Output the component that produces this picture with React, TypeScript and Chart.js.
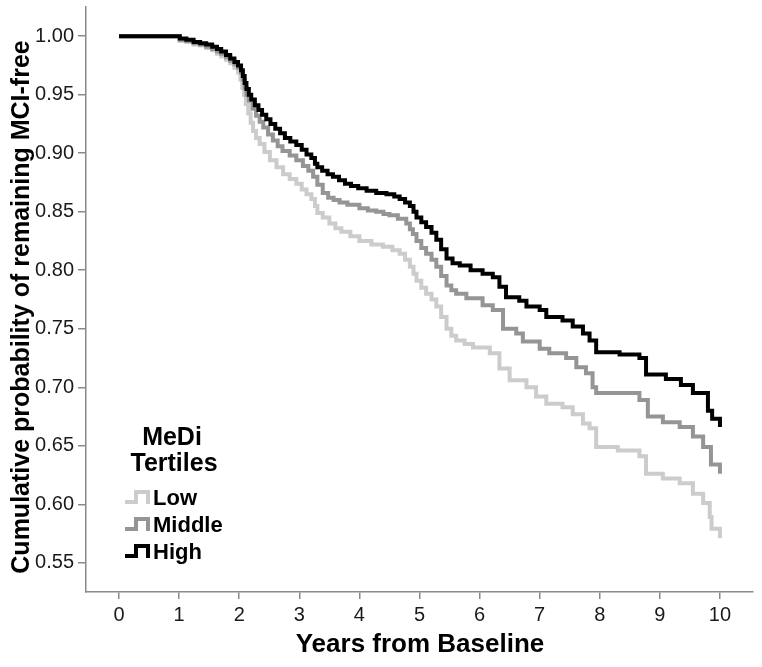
import React, { useEffect, useRef } from "react";
import { Chart, registerables } from "chart.js";

Chart.register(...registerables);

const seriesNames = ["Low", "Middle", "High"];
const seriesColors = ["#cccccc", "#959595", "#000000"];

const lowT = [0, 0.96, 1.01, 1.12, 1.24, 1.35, 1.45, 1.55, 1.63, 1.7, 1.78, 1.85, 1.92, 1.98, 2.02, 2.05, 2.08, 2.11, 2.15, 2.19, 2.23, 2.28, 2.34, 2.42, 2.51, 2.62, 2.73, 2.84, 2.95, 3.04, 3.12, 3.2, 3.26, 3.3, 3.39, 3.5, 3.6, 3.7, 3.85, 4.0, 4.2, 4.39, 4.55, 4.67, 4.76, 4.84, 4.9, 4.95, 5.03, 5.11, 5.2, 5.28, 5.36, 5.45, 5.53, 5.61, 5.75, 5.89, 6.17, 6.33, 6.5, 6.78, 6.94, 7.11, 7.38, 7.55, 7.72, 7.83, 7.94, 8.3, 8.66, 8.77, 9.05, 9.33, 9.55, 9.72, 9.83, 9.86, 10.0];
const lowS = [1.0, 1.0, 0.996, 0.995, 0.993, 0.992, 0.99, 0.988, 0.985, 0.983, 0.98, 0.977, 0.973, 0.969, 0.963, 0.956, 0.95, 0.942, 0.934, 0.926, 0.919, 0.913, 0.908, 0.901, 0.894, 0.888, 0.882, 0.878, 0.874, 0.869, 0.865, 0.861, 0.855, 0.849, 0.845, 0.84, 0.836, 0.833, 0.829, 0.825, 0.822, 0.82, 0.817, 0.814, 0.809, 0.803, 0.797, 0.791, 0.785, 0.78, 0.775, 0.769, 0.76, 0.75, 0.744, 0.74, 0.737, 0.734, 0.729, 0.716, 0.706, 0.7, 0.692, 0.686, 0.683, 0.677, 0.669, 0.665, 0.649, 0.646, 0.641, 0.626, 0.622, 0.618, 0.609, 0.601, 0.589, 0.579, 0.571];

const midT = [0, 0.96, 1.01, 1.12, 1.24, 1.35, 1.45, 1.55, 1.63, 1.7, 1.78, 1.85, 1.92, 1.98, 2.03, 2.06, 2.09, 2.12, 2.16, 2.22, 2.28, 2.34, 2.4, 2.48, 2.56, 2.64, 2.72, 2.84, 2.95, 3.06, 3.15, 3.23, 3.3, 3.39, 3.48, 3.57, 3.67, 3.8, 4.0, 4.14, 4.28, 4.4, 4.5, 4.64, 4.78, 4.84, 4.89, 4.95, 5.03, 5.11, 5.2, 5.28, 5.36, 5.45, 5.53, 5.61, 5.78, 6.05, 6.22, 6.39, 6.61, 6.72, 7.0, 7.16, 7.44, 7.61, 7.77, 7.88, 7.94, 8.66, 8.8, 9.05, 9.33, 9.55, 9.72, 9.85, 10.0];
const midS = [1.0, 1.0, 0.997, 0.996, 0.994, 0.993, 0.991, 0.989, 0.987, 0.985, 0.982, 0.979, 0.976, 0.973, 0.969, 0.963, 0.956, 0.95, 0.945, 0.938, 0.932, 0.927, 0.922, 0.916, 0.911, 0.906, 0.902, 0.898, 0.894, 0.889, 0.885, 0.88, 0.873, 0.866, 0.862, 0.86, 0.858, 0.856, 0.853, 0.851, 0.85, 0.848, 0.847, 0.844, 0.84, 0.835, 0.831, 0.825, 0.819, 0.814, 0.809, 0.803, 0.795, 0.787, 0.783, 0.78, 0.776, 0.77, 0.766, 0.75, 0.746, 0.739, 0.733, 0.729, 0.725, 0.717, 0.712, 0.7, 0.695, 0.689, 0.675, 0.67, 0.666, 0.658, 0.649, 0.634, 0.626];

const highT = [0, 0.96, 1.01, 1.12, 1.24, 1.35, 1.45, 1.55, 1.63, 1.7, 1.78, 1.85, 1.92, 1.98, 2.03, 2.06, 2.09, 2.12, 2.16, 2.2, 2.26, 2.32, 2.38, 2.45, 2.52, 2.6, 2.68, 2.76, 2.85, 2.95, 3.04, 3.12, 3.2, 3.26, 3.3, 3.38, 3.47, 3.56, 3.66, 3.76, 3.86, 3.98, 4.12, 4.28, 4.45, 4.58, 4.67, 4.76, 4.84, 4.9, 4.95, 5.03, 5.11, 5.2, 5.28, 5.36, 5.45, 5.55, 5.67, 5.85, 6.05, 6.22, 6.33, 6.44, 6.66, 6.78, 7.0, 7.11, 7.38, 7.55, 7.72, 7.83, 7.94, 8.33, 8.66, 8.77, 9.1, 9.35, 9.55, 9.8, 9.87, 10.0];
const highS = [1.0, 1.0, 0.998, 0.997, 0.995, 0.994, 0.993, 0.991, 0.989, 0.987, 0.984, 0.981, 0.978, 0.975, 0.971, 0.966, 0.96, 0.955, 0.95, 0.946, 0.941, 0.937, 0.933, 0.929, 0.925, 0.921, 0.917, 0.913, 0.91, 0.907, 0.903, 0.899, 0.896, 0.891, 0.888, 0.885, 0.882, 0.88, 0.877, 0.874, 0.872, 0.87, 0.868, 0.866, 0.865, 0.863, 0.861, 0.858, 0.855, 0.85, 0.845, 0.841, 0.837, 0.832, 0.826, 0.818, 0.81, 0.806, 0.804, 0.8, 0.797, 0.794, 0.786, 0.777, 0.774, 0.769, 0.766, 0.76, 0.757, 0.752, 0.746, 0.74, 0.73, 0.728, 0.725, 0.711, 0.707, 0.702, 0.695, 0.68, 0.673, 0.666];

const xTicks = [0, 1, 2, 3, 4, 5, 6, 7, 8, 9, 10];
const yTicks = [0.55, 0.6, 0.65, 0.7, 0.75, 0.8, 0.85, 0.9, 0.95, 1.0];

const xTitle = "Years from Baseline";
const yTitle = "Cumulative probability of remaining MCI-free";
const legendTitle = ["MeDi", "Tertiles"];

const AXIS_COLOR = "#8a8a8a";
const FONT = "'Liberation Sans', Arial, Helvetica, sans-serif";

function toPoints(t: number[], s: number[]) {
  return t.map((x, i) => ({ x, y: s[i] }));
}

const overlayPlugin = {
  id: "overlay",
  afterDraw(chart: any) {
    const ctx = chart.ctx as CanvasRenderingContext2D;
    ctx.save();
    ctx.fillStyle = "#000";
    ctx.font = `bold 26px ${FONT}`;
    ctx.textAlign = "center";
    ctx.textBaseline = "middle";
    ctx.fillText(xTitle, 420, 645);
    ctx.save();
    ctx.translate(22, 307);
    ctx.rotate(-Math.PI / 2);
    ctx.font = `bold 25px ${FONT}`;
    ctx.fillText(yTitle, 0, 0);
    ctx.restore();

    ctx.font = `bold 25px ${FONT}`;
    ctx.fillText(legendTitle[0], 172, 438);
    ctx.fillText(legendTitle[1], 174, 464);
    const rows = [498, 525, 552];
    ctx.font = `bold 22px ${FONT}`;
    ctx.textAlign = "left";
    seriesNames.forEach((name, i) => {
      const cy = rows[i];
      const yb = cy + 4;
      const yt = cy - 6;
      ctx.strokeStyle = seriesColors[i];
      ctx.lineWidth = 4;
      ctx.lineJoin = "miter";
      ctx.beginPath();
      ctx.moveTo(125, yb);
      ctx.lineTo(136, yb);
      ctx.lineTo(136, yt);
      ctx.lineTo(148, yt);
      ctx.lineTo(148, yb + 2);
      ctx.stroke();
      ctx.fillStyle = "#000";
      ctx.fillText(name, 153, cy + 1);
    });
    ctx.restore();
  },
};

export default function App() {
  const ref = useRef<HTMLCanvasElement | null>(null);
  useEffect(() => {
    if (!ref.current) return;
    const sets = [
      { t: lowT, s: lowS },
      { t: midT, s: midS },
      { t: highT, s: highS },
    ];
    const chart = new Chart(ref.current, {
      type: "line",
      data: {
        datasets: sets.map((d, i) => ({
          label: seriesNames[i],
          data: toPoints(d.t, d.s),
          borderColor: seriesColors[i],
          backgroundColor: seriesColors[i],
          borderWidth: 4,
          pointRadius: 0,
          stepped: "before" as const,
          fill: false,
          order: 3 - i,
          borderJoinStyle: "miter" as const,
        })),
      },
      options: {
        animation: false,
        responsive: false,
        maintainAspectRatio: false,
        layout: { padding: { left: 0, top: 7, right: 9, bottom: 0 } },
        plugins: {
          legend: { display: false },
          tooltip: { enabled: false },
        },
        scales: {
          x: {
            type: "linear",
            min: -0.55,
            max: 10.55,
            afterBuildTicks: (scale: any) => {
              scale.ticks = xTicks.map((v) => ({ value: v }));
            },
            afterFit: (scale: any) => {
              scale.height = 75;
              scale.paddingLeft = 0;
              scale.paddingRight = 0;
            },
            grid: {
              drawOnChartArea: false,
              drawTicks: true,
              tickLength: 7,
              color: AXIS_COLOR,
              lineWidth: 1.5,
            },
            border: { display: true, color: AXIS_COLOR, width: 1.5 },
            ticks: {
              color: "#1a1a1a",
              font: { family: FONT, size: 20 },
              padding: 4,
              maxRotation: 0,
              callback: (v: any) => String(v),
            },
          },
          y: {
            type: "linear",
            min: 0.525,
            max: 1.025,
            afterBuildTicks: (scale: any) => {
              scale.ticks = yTicks.map((v) => ({ value: v }));
            },
            afterFit: (scale: any) => {
              scale.width = 86;
              scale.paddingTop = 0;
              scale.paddingBottom = 0;
            },
            grid: {
              drawOnChartArea: false,
              drawTicks: true,
              tickLength: 8,
              color: AXIS_COLOR,
              lineWidth: 1.5,
            },
            border: { display: true, color: AXIS_COLOR, width: 1.5 },
            ticks: {
              color: "#1a1a1a",
              font: { family: FONT, size: 20 },
              padding: 4,
              callback: (v: any) => Number(v).toFixed(2),
            },
          },
        },
      },
      plugins: [overlayPlugin],
    });
    return () => chart.destroy();
  }, []);
  return (
    <div style={{ position: "fixed", left: 0, top: 0, width: 762, height: 667, background: "#fff" }}>
      <canvas ref={ref} width={762} height={667} style={{ width: 762, height: 667, display: "block" }} />
    </div>
  );
}
